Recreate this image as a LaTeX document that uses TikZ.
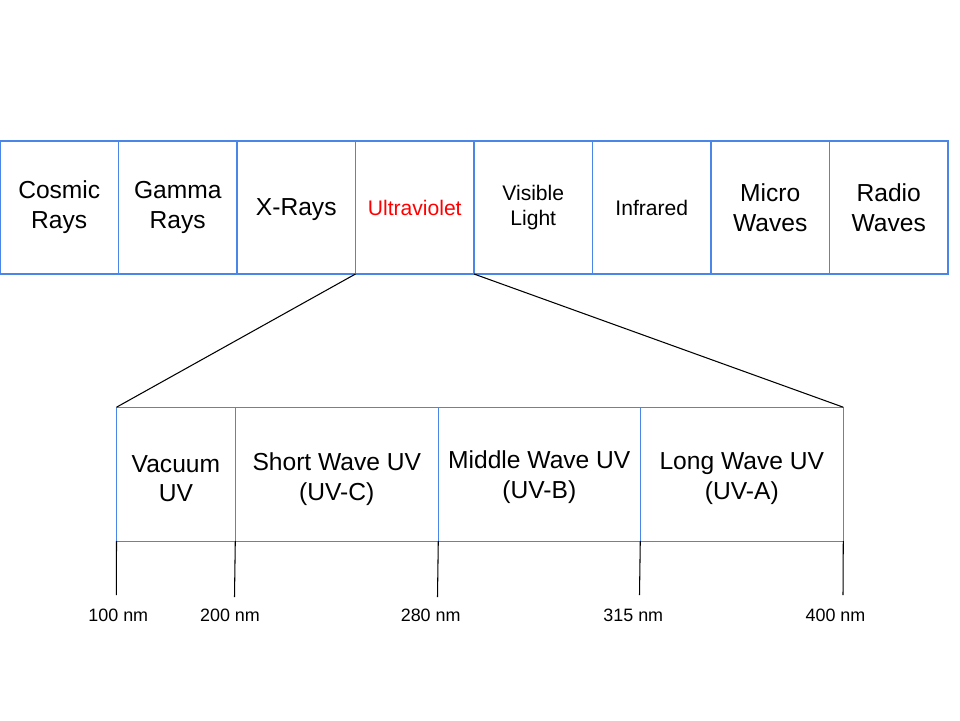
\documentclass[tikz,border=0pt]{standalone}
\usepackage{fontspec}
\setmainfont{Liberation Sans}
\usepackage{xcolor}
\definecolor{boxblue}{HTML}{4A86E8}

\tikzset{
  band/.style={draw=boxblue, line width=0.6pt, outer sep=0pt, inner sep=0pt,
    align=center, font=\fontsize{14}{17}\selectfont},
  bandsmall/.style={band, font=\fontsize{12}{14.2}\selectfont},
  bandtext/.style={align=center, font=\fontsize{14}{17}\selectfont, inner sep=0pt, yshift=-0.09cm},
  tick/.style={black, line width=0.6pt},
  zoomline/.style={black, line width=0.6pt},
  nmlabel/.style={font=\fontsize{10.2}{12}\selectfont, inner sep=0pt}
}

\begin{document}
\begin{tikzpicture}[x=0.02cm, y=-0.02cm]
  \useasboundingbox (0,0) rectangle (960,720);

  % Spectrum
  \node[band, minimum width=2.37cm, minimum height=2.66cm] (cosmic) at (59.25,207.5) {Cosmic\\Rays};
  \node[band, minimum width=2.37cm, minimum height=2.66cm] (gamma) at (177.75,207.5) {Gamma\\Rays};
  \node[band, text depth=0pt, minimum width=2.37cm, minimum height=2.66cm] (xrays) at (296.25,207.5) {X-Rays};
  \node[bandsmall, text=red, minimum width=2.37cm, minimum height=2.66cm] (uv) at (414.75,207.5) {Ultraviolet};
  \node[bandsmall, minimum width=2.37cm, minimum height=2.66cm] (visible) at (533.25,207.5) {Visible\\Light};
  \node[bandsmall, minimum width=2.37cm, minimum height=2.66cm] (infrared) at (651.75,207.5) {Infrared};
  \node[band, minimum width=2.37cm, minimum height=2.66cm] (micro) at (770.25,207.5) {Micro\\Waves};
  \node[band, minimum width=2.37cm, minimum height=2.66cm] (radio) at (888.75,207.5) {Radio\\Waves};

  % UV bands
  \node[band, minimum width=2.376cm, minimum height=2.68cm,
    label={[bandtext]center:{Vacuum\\UV}}] (vacuum) at (175.9,474.2) {};
  \node[band, minimum width=4.06cm, minimum height=2.68cm,
    label={[bandtext]center:{Short Wave UV\\(UV-C)}}] (uvc) at (336.8,474.2) {};
  \node[band, minimum width=4.04cm, minimum height=2.68cm,
    label={[bandtext, yshift=0.03cm]center:{Middle Wave UV\\(UV-B)}}] (uvb) at (539.3,474.2) {};
  \node[band, minimum width=4.06cm, minimum height=2.68cm,
    label={[bandtext]center:{Long Wave UV\\(UV-A)}}] (uva) at (741.8,474.2) {};

  % Zoom lines
  \draw[zoomline] (uv.south west) -- (vacuum.north west);
  \draw[zoomline] (uv.south east) -- (uva.north east);

  % Wavelength ticks
  \coordinate (t100) at (116.3,595);
  \coordinate (t200) at (234.5,597);
  \coordinate (t280) at (437.5,597);
  \coordinate (t315) at (639.5,595);
  \coordinate (t400) at (843,595);
  \draw[tick] (vacuum.south west) -- (t100);
  \draw[tick] (vacuum.south east) -- (t200);
  \draw[tick] (uvc.south east) -- (t280);
  \draw[tick] (uvb.south east) -- (t315);
  \draw[tick] (uva.south east) -- (t400);

  % Labels
  \node[nmlabel] (l100) at (118.3,615.5) {100 nm};
  \node[nmlabel] (l200) at (230,615.5) {200 nm};
  \node[nmlabel] (l280) at (430.7,615.5) {280 nm};
  \node[nmlabel] (l315) at (633.3,615.5) {315 nm};
  \node[nmlabel] (l400) at (835.5,615.5) {400 nm};
\end{tikzpicture}
\end{document}
